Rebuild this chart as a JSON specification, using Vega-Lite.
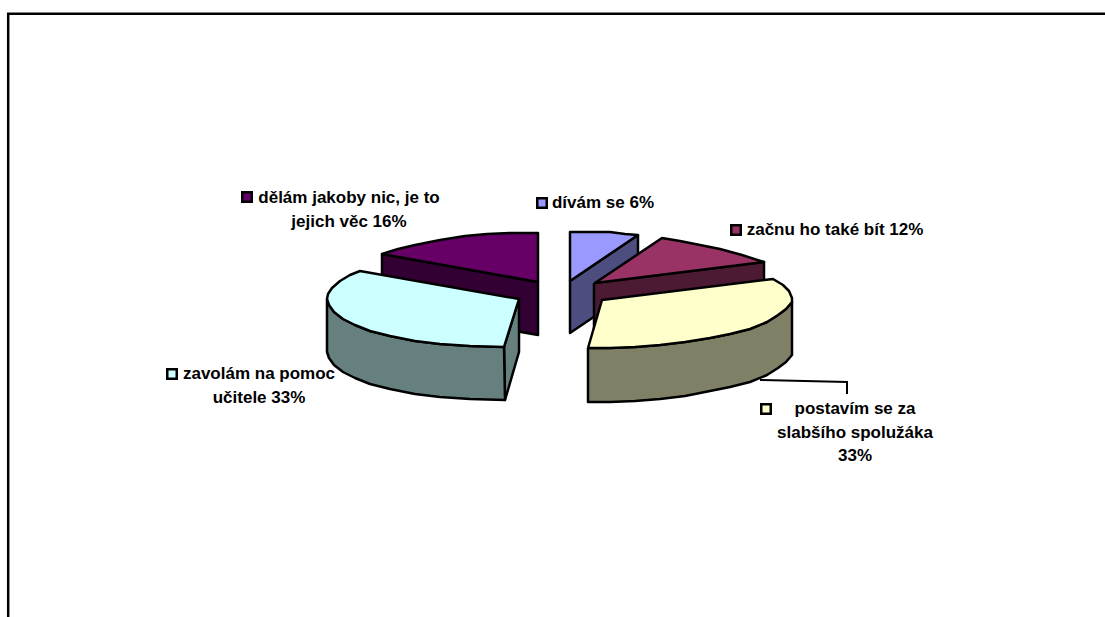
{"$schema":"https://vega.github.io/schema/vega-lite/v6.json","width":1105,"height":617,"autosize":"none","padding":0,"background":"white","view":{"stroke":null},
"datasets":{
"frame":[{"x":8.2,"y":617,"n":1},{"x":8.2,"y":13.7,"n":2},{"x":1105,"y":13.7,"n":3}],
"leader":[{"x":760,"y":380,"n":1},{"x":847,"y":382,"n":2},{"x":847,"y":394,"n":3}],
"faces":[
{"part":"purple side","n":1,"x":382,"y":254},{"part":"purple side","n":2,"x":538,"y":282},{"part":"purple side","n":3,"x":538,"y":335},{"part":"purple side","n":4,"x":382,"y":307},{"part":"purple side","n":5,"x":382,"y":254},
{"part":"purple top","n":1,"x":538,"y":282},{"part":"purple top","n":2,"x":538,"y":233},{"part":"purple top","n":3,"x":510,"y":233},{"part":"purple top","n":4,"x":487,"y":234},{"part":"purple top","n":5,"x":465,"y":236},{"part":"purple top","n":6,"x":440,"y":240},{"part":"purple top","n":7,"x":415,"y":245},{"part":"purple top","n":8,"x":398,"y":249},{"part":"purple top","n":9,"x":382,"y":254},{"part":"purple top","n":10,"x":538,"y":282},
{"part":"lavender side","n":1,"x":638,"y":235},{"part":"lavender side","n":2,"x":570,"y":281},{"part":"lavender side","n":3,"x":570,"y":333},{"part":"lavender side","n":4,"x":638,"y":287},{"part":"lavender side","n":5,"x":638,"y":235},
{"part":"lavender top","n":1,"x":570,"y":281},{"part":"lavender top","n":2,"x":570,"y":232},{"part":"lavender top","n":3,"x":590,"y":232},{"part":"lavender top","n":4,"x":610,"y":232},{"part":"lavender top","n":5,"x":625,"y":234},{"part":"lavender top","n":6,"x":638,"y":235},{"part":"lavender top","n":7,"x":570,"y":281},
{"part":"maroon side","n":1,"x":594,"y":283},{"part":"maroon side","n":2,"x":764,"y":262},{"part":"maroon side","n":3,"x":764,"y":315},{"part":"maroon side","n":4,"x":594,"y":336},{"part":"maroon side","n":5,"x":594,"y":283},
{"part":"maroon top","n":1,"x":595,"y":283},{"part":"maroon top","n":2,"x":662,"y":238},{"part":"maroon top","n":3,"x":680,"y":241},{"part":"maroon top","n":4,"x":700,"y":245},{"part":"maroon top","n":5,"x":720,"y":249},{"part":"maroon top","n":6,"x":742,"y":255},{"part":"maroon top","n":7,"x":764,"y":262},{"part":"maroon top","n":8,"x":595,"y":283},
{"part":"cyan inner","n":1,"x":504,"y":347},{"part":"cyan inner","n":2,"x":519,"y":299},{"part":"cyan inner","n":3,"x":519,"y":352},{"part":"cyan inner","n":4,"x":505,"y":400},{"part":"cyan inner","n":5,"x":504,"y":347},
{"part":"cyan side","n":1,"x":327,"y":299},{"part":"cyan side","n":2,"x":329,"y":305},{"part":"cyan side","n":3,"x":334,"y":312},{"part":"cyan side","n":4,"x":343,"y":319},{"part":"cyan side","n":5,"x":355,"y":325},{"part":"cyan side","n":6,"x":370,"y":331},{"part":"cyan side","n":7,"x":390,"y":336},{"part":"cyan side","n":8,"x":415,"y":341},{"part":"cyan side","n":9,"x":440,"y":344},{"part":"cyan side","n":10,"x":470,"y":346},{"part":"cyan side","n":11,"x":504,"y":347},{"part":"cyan side","n":12,"x":505,"y":400},{"part":"cyan side","n":13,"x":470,"y":399},{"part":"cyan side","n":14,"x":440,"y":397},{"part":"cyan side","n":15,"x":415,"y":394},{"part":"cyan side","n":16,"x":390,"y":389},{"part":"cyan side","n":17,"x":370,"y":384},{"part":"cyan side","n":18,"x":355,"y":378},{"part":"cyan side","n":19,"x":343,"y":372},{"part":"cyan side","n":20,"x":334,"y":365},{"part":"cyan side","n":21,"x":329,"y":358},{"part":"cyan side","n":22,"x":327,"y":352},{"part":"cyan side","n":23,"x":327,"y":299},
{"part":"cyan top","n":1,"x":504,"y":347},{"part":"cyan top","n":2,"x":519,"y":299},{"part":"cyan top","n":3,"x":360,"y":271},{"part":"cyan top","n":4,"x":350,"y":275},{"part":"cyan top","n":5,"x":340,"y":281},{"part":"cyan top","n":6,"x":332,"y":288},{"part":"cyan top","n":7,"x":328,"y":294},{"part":"cyan top","n":8,"x":327,"y":299},{"part":"cyan top","n":9,"x":329,"y":305},{"part":"cyan top","n":10,"x":334,"y":312},{"part":"cyan top","n":11,"x":343,"y":319},{"part":"cyan top","n":12,"x":355,"y":325},{"part":"cyan top","n":13,"x":370,"y":331},{"part":"cyan top","n":14,"x":390,"y":336},{"part":"cyan top","n":15,"x":415,"y":341},{"part":"cyan top","n":16,"x":440,"y":344},{"part":"cyan top","n":17,"x":470,"y":346},{"part":"cyan top","n":18,"x":504,"y":347},
{"part":"yellow side","n":1,"x":588,"y":348},{"part":"yellow side","n":2,"x":610,"y":348},{"part":"yellow side","n":3,"x":635,"y":347},{"part":"yellow side","n":4,"x":660,"y":345},{"part":"yellow side","n":5,"x":685,"y":342},{"part":"yellow side","n":6,"x":710,"y":338},{"part":"yellow side","n":7,"x":730,"y":334},{"part":"yellow side","n":8,"x":750,"y":329},{"part":"yellow side","n":9,"x":767,"y":322},{"part":"yellow side","n":10,"x":778,"y":315},{"part":"yellow side","n":11,"x":786,"y":309},{"part":"yellow side","n":12,"x":792,"y":302},{"part":"yellow side","n":13,"x":792,"y":355},{"part":"yellow side","n":14,"x":786,"y":362},{"part":"yellow side","n":15,"x":778,"y":368},{"part":"yellow side","n":16,"x":767,"y":375},{"part":"yellow side","n":17,"x":750,"y":382},{"part":"yellow side","n":18,"x":730,"y":387},{"part":"yellow side","n":19,"x":710,"y":391},{"part":"yellow side","n":20,"x":685,"y":396},{"part":"yellow side","n":21,"x":660,"y":399},{"part":"yellow side","n":22,"x":635,"y":401},{"part":"yellow side","n":23,"x":610,"y":402},{"part":"yellow side","n":24,"x":588,"y":402},{"part":"yellow side","n":25,"x":588,"y":348},
{"part":"yellow top","n":1,"x":588,"y":348},{"part":"yellow top","n":2,"x":602,"y":300},{"part":"yellow top","n":3,"x":773,"y":279},{"part":"yellow top","n":4,"x":783,"y":285},{"part":"yellow top","n":5,"x":789,"y":291},{"part":"yellow top","n":6,"x":792,"y":298},{"part":"yellow top","n":7,"x":792,"y":302},{"part":"yellow top","n":8,"x":786,"y":309},{"part":"yellow top","n":9,"x":778,"y":315},{"part":"yellow top","n":10,"x":767,"y":322},{"part":"yellow top","n":11,"x":750,"y":329},{"part":"yellow top","n":12,"x":730,"y":334},{"part":"yellow top","n":13,"x":710,"y":338},{"part":"yellow top","n":14,"x":685,"y":342},{"part":"yellow top","n":15,"x":660,"y":345},{"part":"yellow top","n":16,"x":635,"y":347},{"part":"yellow top","n":17,"x":610,"y":348},{"part":"yellow top","n":18,"x":588,"y":348}
],
"keys":[{"part":"purple top","x":247,"y":197},{"part":"lavender top","x":542,"y":203},{"part":"maroon top","x":736,"y":230},{"part":"yellow top","x":766,"y":409},{"part":"cyan top","x":172,"y":374}],
"labels":[{"t":"dělám jakoby nic, je to","x":349,"y":198},{"t":"jejich věc 16%","x":349,"y":222},{"t":"dívám se 6%","x":603,"y":203},{"t":"začnu ho také bít 12%","x":835,"y":230},{"t":"postavím se za","x":855,"y":409},{"t":"slabšího spolužáka","x":855,"y":433},{"t":"33%","x":855,"y":456},{"t":"zavolám na pomoc","x":259,"y":374},{"t":"učitele 33%","x":259,"y":398}]
},
"resolve":{"scale":{"fill":"shared"}},
"encoding":{
"x":{"field":"x","type":"quantitative","scale":{"domain":[0,1105],"nice":false,"zero":false},"axis":null},
"y":{"field":"y","type":"quantitative","scale":{"domain":[617,0],"nice":false,"zero":false},"axis":null}
},
"layer":[
{"data":{"name":"frame"},"mark":{"type":"line","stroke":"black","strokeWidth":2.5,"strokeJoin":"miter"},"encoding":{"order":{"field":"n"}}},
{"data":{"name":"faces"},"mark":{"type":"line","stroke":"black","strokeWidth":2.5,"strokeJoin":"round"},"encoding":{"order":{"field":"n"},"detail":{"field":"part"},"fill":{"field":"part","type":"nominal","legend":null,"scale":{"domain":["purple side","purple top","lavender side","lavender top","maroon side","maroon top","cyan inner","cyan side","cyan top","yellow side","yellow top"],"range":["#330033","#660066","#4D4D80","#9999FF","#4D1A33","#993366","#668080","#668080","#CCFFFF","#808066","#FFFFCC"]}}}},
{"data":{"name":"leader"},"mark":{"type":"line","stroke":"black","strokeWidth":2,"strokeJoin":"miter"},"encoding":{"order":{"field":"n"}}},
{"data":{"name":"keys"},"mark":{"type":"point","shape":"square","filled":true,"size":90,"stroke":"black","strokeWidth":2.5,"opacity":1},"encoding":{"fill":{"field":"part","type":"nominal","legend":null}}},
{"data":{"name":"labels"},"mark":{"type":"text","font":"Liberation Sans","fontWeight":"bold","fontSize":17,"align":"center","baseline":"middle","color":"black"},"encoding":{"text":{"field":"t"}}}
]}
